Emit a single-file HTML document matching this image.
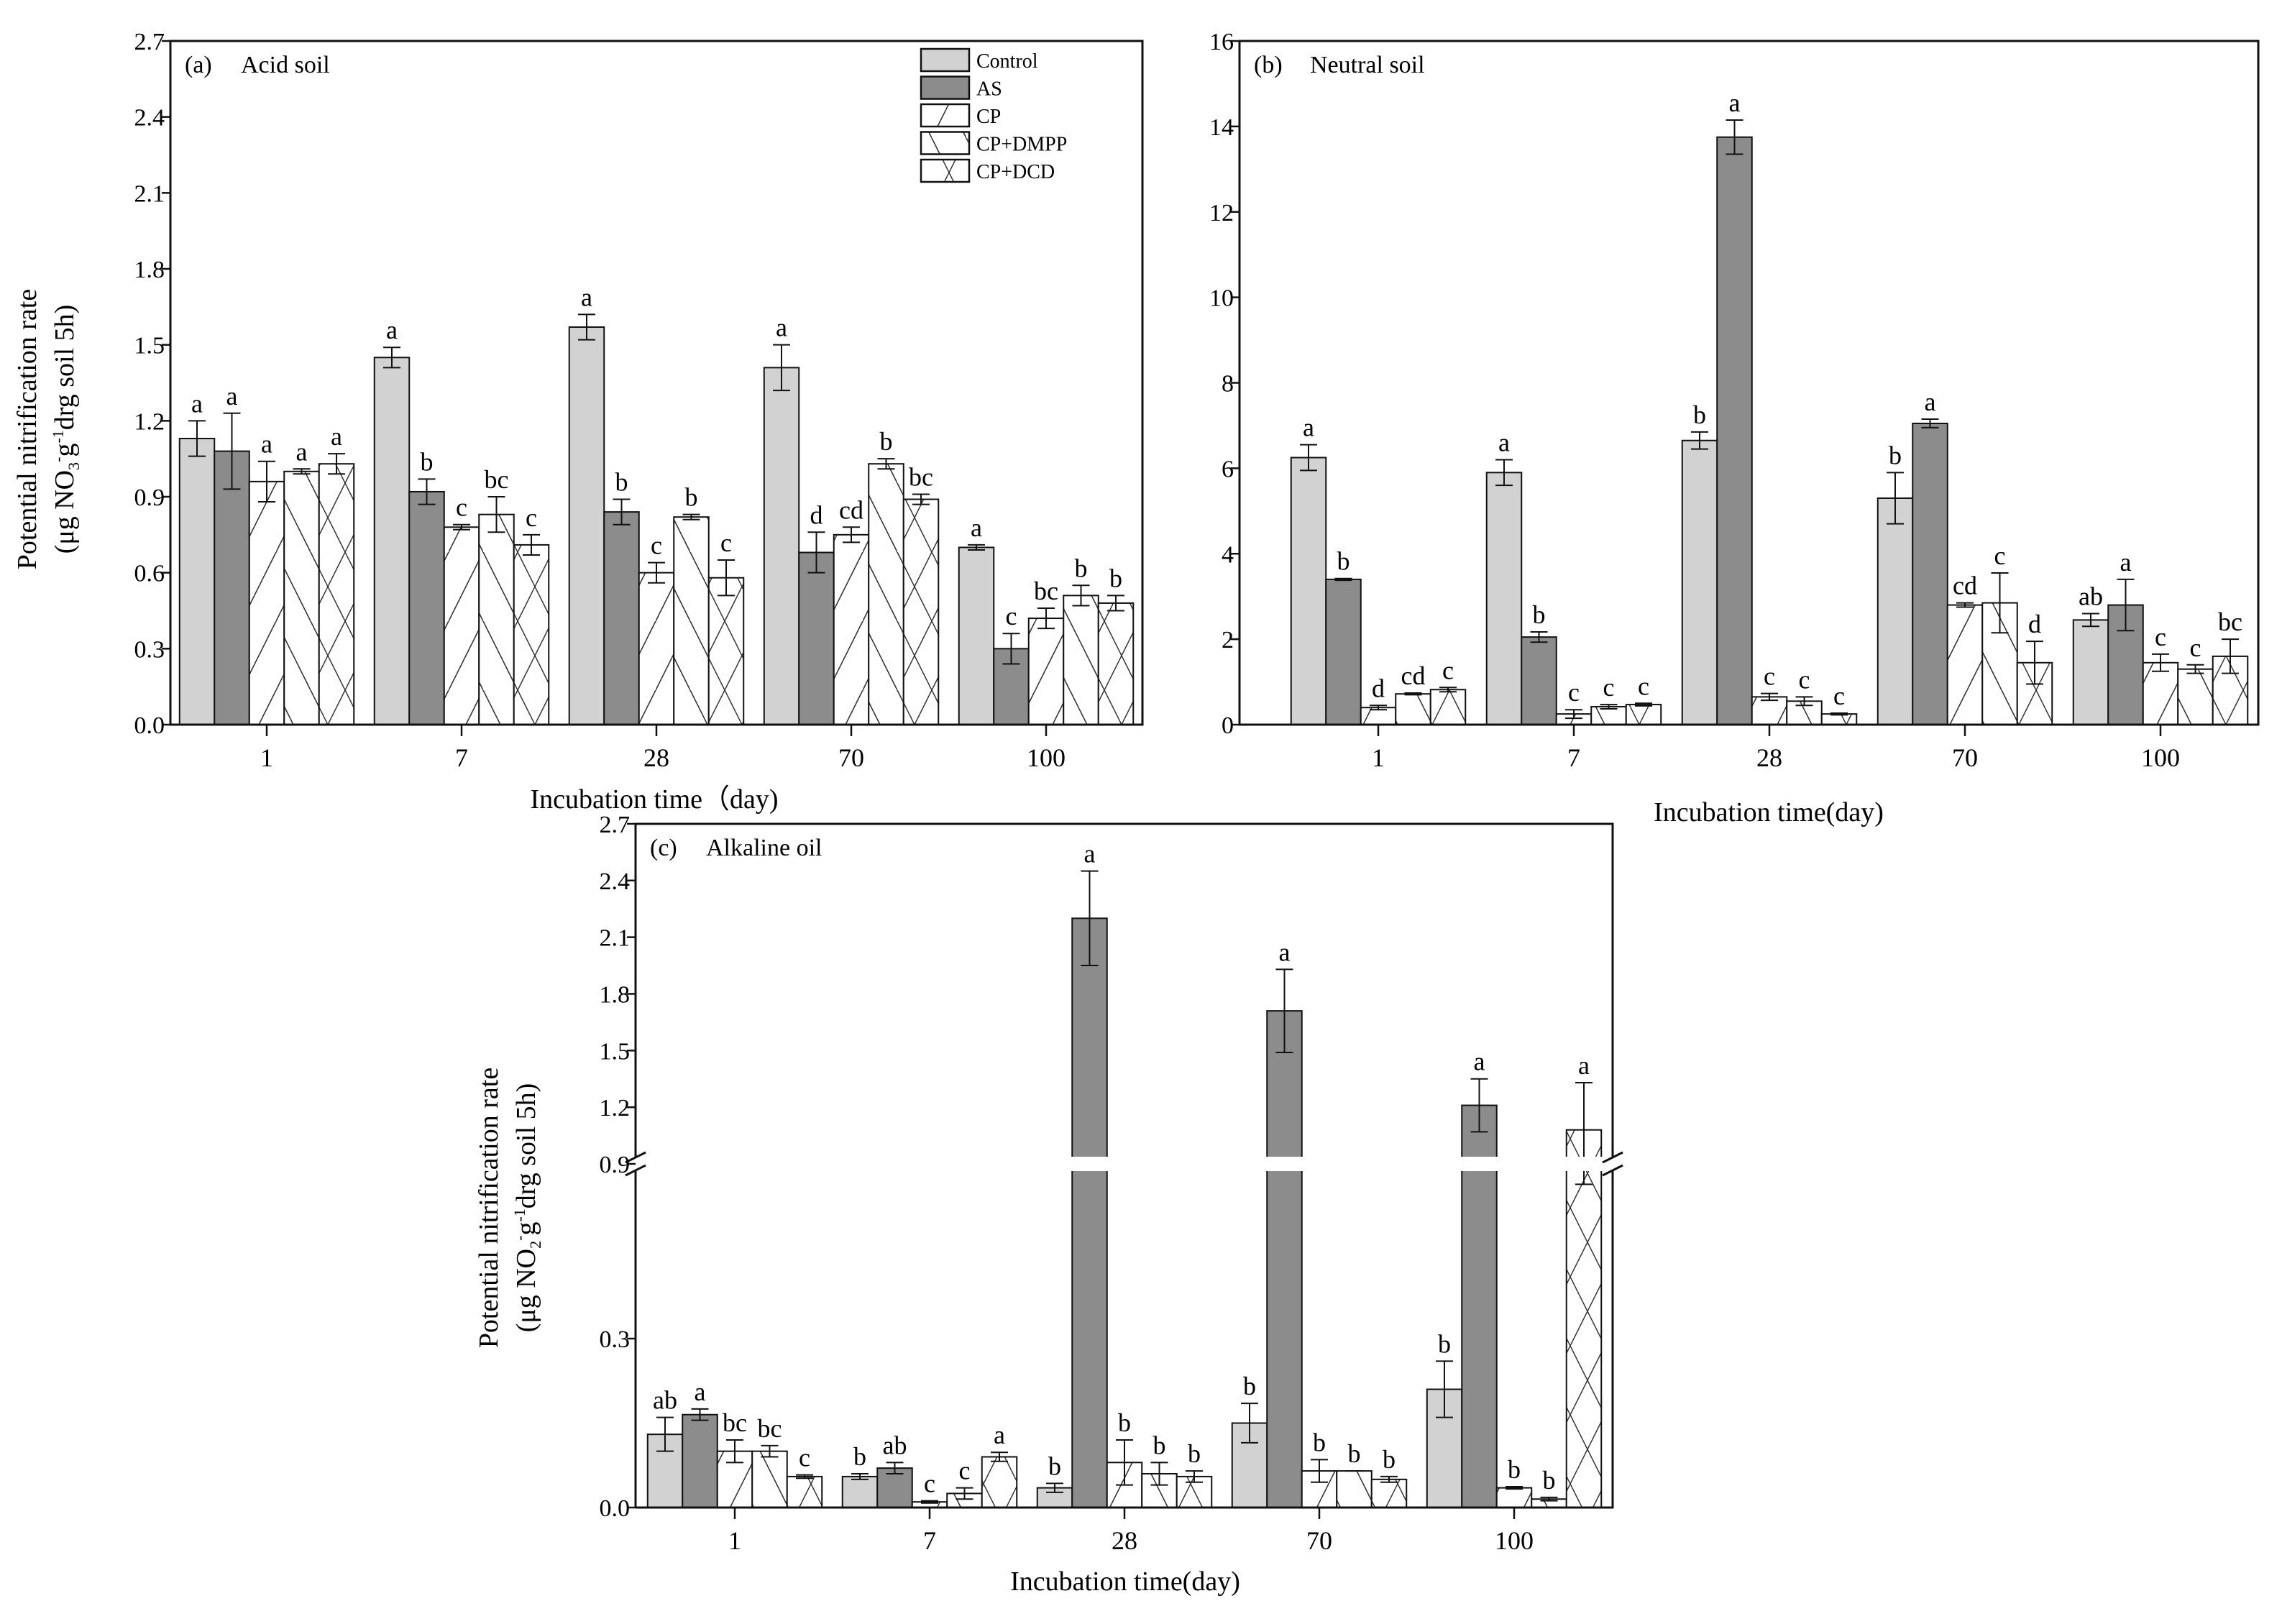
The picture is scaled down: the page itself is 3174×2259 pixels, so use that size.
<!DOCTYPE html>
<html><head><meta charset="utf-8"><style>
html,body{margin:0;padding:0;background:#fff}
svg,svg text{font-family:"Liberation Serif","DejaVu Serif",serif}
</style></head><body>
<svg id="fig" width="3174" height="2254" viewBox="0 0 3174 2254" xmlns="http://www.w3.org/2000/svg">
<defs>
<pattern id="pCP" patternUnits="userSpaceOnUse" width="48" height="96"><line x1="-24" y1="144" x2="72" y2="-48" stroke="#333" stroke-width="1.6"/><line x1="-72" y1="144" x2="24" y2="-48" stroke="#333" stroke-width="1.6"/></pattern>
<pattern id="pDMPP" patternUnits="userSpaceOnUse" width="48" height="96"><line x1="-24" y1="-48" x2="72" y2="144" stroke="#333" stroke-width="1.6"/><line x1="24" y1="-48" x2="120" y2="144" stroke="#333" stroke-width="1.6"/></pattern>
<pattern id="pDCD" patternUnits="userSpaceOnUse" width="48" height="96"><line x1="0" y1="96" x2="48" y2="0" stroke="#333" stroke-width="1.5"/><line x1="0" y1="0" x2="48" y2="96" stroke="#333" stroke-width="1.5"/></pattern>
</defs>
<g id="root" font-family="Liberation Serif, serif"></g>
</svg>
<script>
const categories = ["1","7","28","70","100"];
const seriesNames = ["Control","AS","CP","CP+DMPP","CP+DCD"];
// Panel a (acid soil)
const aControl = [1.13,1.45,1.57,1.41,0.70];
const aAS      = [1.08,0.92,0.84,0.68,0.30];
const aCP      = [0.96,0.78,0.60,0.75,0.42];
const aDMPP    = [1.00,0.83,0.82,1.03,0.51];
const aDCD     = [1.03,0.71,0.58,0.89,0.48];
const aErr = [[0.07,0.04,0.05,0.09,0.01],[0.15,0.05,0.05,0.08,0.06],[0.08,0.01,0.04,0.03,0.04],[0.01,0.07,0.01,0.02,0.04],[0.04,0.04,0.07,0.02,0.03]];
const aLetters = [["a","a","a","a","a"],["a","b","c","bc","c"],["a","b","c","b","c"],["a","d","cd","b","bc"],["a","c","bc","b","b"]];
const aTicks = ["0.0","0.3","0.6","0.9","1.2","1.5","1.8","2.1","2.4","2.7"];
// Panel b (neutral soil)
const bControl = [6.25,5.9,6.65,5.3,2.45];
const bAS      = [3.4,2.05,13.75,7.05,2.8];
const bCP      = [0.4,0.25,0.65,2.8,1.45];
const bDMPP    = [0.72,0.42,0.55,2.85,1.3];
const bDCD     = [0.82,0.47,0.25,1.45,1.6];
const bErr = [[0.3,0.3,0.2,0.6,0.15],[0.02,0.12,0.4,0.1,0.6],[0.05,0.1,0.08,0.05,0.2],[0.02,0.05,0.1,0.7,0.1],[0.05,0.03,0.02,0.5,0.4]];
const bLetters = [["a","b","d","cd","c"],["a","b","c","c","c"],["b","a","c","c","c"],["b","a","cd","c","d"],["ab","a","c","c","bc"]];
const bTicks = ["0","2","4","6","8","10","12","14","16"];
// Panel c (alkaline soil)
const cControl = [0.13,0.055,0.035,0.15,0.21];
const cAS      = [0.165,0.07,2.2,1.71,1.21];
const cCP      = [0.10,0.01,0.08,0.065,0.035];
const cDMPP    = [0.10,0.025,0.06,0.065,0.015];
const cDCD     = [0.055,0.09,0.055,0.05,1.08];
const cErr = [[0.03,0.005,0.008,0.035,0.05],[0.01,0.01,0.25,0.22,0.14],[0.02,0.002,0.04,0.02,0.002],[0.01,0.01,0.02,0.0,0.003],[0.003,0.008,0.01,0.005,0.25]];
const cLetters = [["ab","a","bc","bc","c"],["b","ab","c","c","a"],["b","a","b","b","b"],["b","a","b","b","b"],["b","a","b","b","a"]];
const cTicks = ["0.0","0.3","0.9","1.2","1.5","1.8","2.1","2.4","2.7"];

const NS="http://www.w3.org/2000/svg";
const root=document.getElementById('root');
function mk(tag,attrs,parent,text){const e=document.createElementNS(NS,tag);for(const k in attrs)e.setAttribute(k,attrs[k]);if(text!==undefined)e.textContent=text;(parent||root).appendChild(e);return e;}
const fills=["#d2d2d2","#8c8c8c","url(#pCP)","url(#pDMPP)","url(#pDCD)"];
const keys=["control","as","cp","cp-dmpp","cp-dcd"];

function drawPanel(p){
  const g=mk('g',{});
  
  
  const series=p.series, bw=48.5;
  for(let i=0;i<categories.length;i++){
    const cx=p.first+i*p.spacing;
    for(let s=0;s<5;s++){
      const v=series[s][i], x=cx-2.5*bw+s*bw, yt=p.y(v), yb=p.y(0);
      if(fills[s].startsWith('url')) mk('rect',{x:x,y:yt,width:bw,height:yb-yt,fill:'#fff'},g);
      const r=mk('rect',{x:x,y:yt,width:bw,height:yb-yt,fill:fills[s],stroke:'#111','stroke-width':2},g);
      
      
      const e=p.err[s][i], ex=x+bw/2, y1=p.y(v+e), y2=p.y(Math.max(0,v-e));
      const eb=mk('path',{d:`M${ex} ${y1}V${y2}M${ex-12} ${y1}H${ex+12}M${ex-12} ${y2}H${ex+12}`,stroke:'#111','stroke-width':2,fill:'none'},g);
      
      
      const t=mk('text',{x:ex,y:y1-12,'font-size':36,'text-anchor':'middle'},g,p.letters[i][s]);
      
      
    }
  }
  if(p.breakY){
    mk('rect',{x:p.L+2,y:p.breakY-10,width:p.R-p.L-4,height:20,fill:'#fff'},g);
    for(const bx of [p.L,p.R]){
      mk('path',{d:`M${bx-14} ${p.breakY-2}L${bx+14} ${p.breakY-16}M${bx-14} ${p.breakY+16}L${bx+14} ${p.breakY+2}`,stroke:'#111','stroke-width':3,fill:'none'},g);
    }
  }
  const f=mk('path',{d:p.breakY?`M${p.L} ${p.B}V${p.breakY+9}M${p.L} ${p.breakY-9}V${p.T}H${p.R}V${p.breakY-9}M${p.R} ${p.breakY+9}V${p.B}H${p.L}`:`M${p.L} ${p.T}H${p.R}V${p.B}H${p.L}Z`,fill:'none',stroke:'#111','stroke-width':3},g);
  
  
  p.ticks.forEach(t=>{const y=p.y(parseFloat(t));
    mk('line',{x1:p.L-12,x2:p.L,y1:y,y2:y,stroke:'#111','stroke-width':2.5},g);
    const tl=mk('text',{x:p.L-8,y:y+12,'font-size':34,'text-anchor':'end'},g,t);
    
    
  });
  categories.forEach((c,i)=>{const x=p.first+i*p.spacing;
    mk('line',{x1:x,x2:x,y1:p.B,y2:p.B+16,stroke:'#111','stroke-width':2.5},g);
    const tl=mk('text',{x:x,y:p.B+58,'font-size':36,'text-anchor':'middle'},g,c);
    
    
  });
  const xt=mk('text',{x:p.xlx,y:p.xly,'font-size':38,'text-anchor':'middle'},g,p.xlabel);
  
  
  const t1=mk('text',{x:p.L+20,y:p.T+44,'font-size':34},g,p.tag);
  
  
  const t2=mk('text',{x:p.L+98,y:p.T+44,'font-size':34},g,p.title);
  
  
  if(p.ylx){
    const yl=mk('text',{transform:`translate(${p.ylx},${p.yly}) rotate(-90)`,'font-size':38,'text-anchor':'middle'},g);
    
    
    mk('tspan',{x:0,y:0},yl,'Potential nitrification rate');
    mk('tspan',{x:0,y:52},yl,'(μg NO');
    mk('tspan',{'font-size':22,dy:8},yl,p.sub);
    mk('tspan',{'font-size':22,dy:-22},yl,'-');
    mk('tspan',{dy:14},yl,'g');
    mk('tspan',{'font-size':22,dy:-14},yl,'-1');
    mk('tspan',{dy:14},yl,'drg soil 5h)');
  }
}

drawPanel({name:'panel-a-acid-soil',L:237,R:1589,T:57,B:1008,first:371,spacing:271,
  y:v=>1008-v*(951/2.7),series:[aControl,aAS,aCP,aDMPP,aDCD],err:aErr,letters:aLetters,ticks:aTicks,
  xlabel:'Incubation time（day)',xlx:910,xly:1124,tag:'(a)',title:'Acid soil',ylx:50,yly:597,sub:'3'});
drawPanel({name:'panel-b-neutral-soil',L:1724,R:3141,T:57,B:1008,first:1917,spacing:272,
  y:v=>1008-v*(951/16),series:[bControl,bAS,bCP,bDMPP,bDCD],err:bErr,letters:bLetters,ticks:bTicks,
  xlabel:'Incubation time(day)',xlx:2460,xly:1142,tag:'(b)',title:'Neutral soil'});
function cy(v){ if(v<=0.3) return 2097-v*783.3; if(v<=0.9) return 1862-(v-0.3)*405; return 1619-(v-0.9)*262.8; }
drawPanel({name:'panel-c-alkaline-soil',L:884,R:2243,T:1146,B:2097,first:1022,spacing:271,breakY:1619,
  y:cy,series:[cControl,cAS,cCP,cDMPP,cDCD],err:cErr,letters:cLetters,ticks:cTicks,
  xlabel:'Incubation time(day)',xlx:1565,xly:2212,tag:'(c)',title:'Alkaline oil',ylx:692,yly:1680,sub:'2'});

const lg=mk('g',{});


seriesNames.forEach((n,i)=>{
  const y=68+i*38.5;
  const e=mk('g',{},lg);
  
  
  if(i>1) mk('rect',{x:1281,y:y,width:67,height:31,fill:'#fff'},e);
  mk('rect',{x:1281,y:y,width:67,height:31,fill:fills[i],stroke:'#111','stroke-width':2.5},e);
  mk('text',{x:1358,y:y+26,'font-size':28},e,n);
});
</script>
</body></html>
